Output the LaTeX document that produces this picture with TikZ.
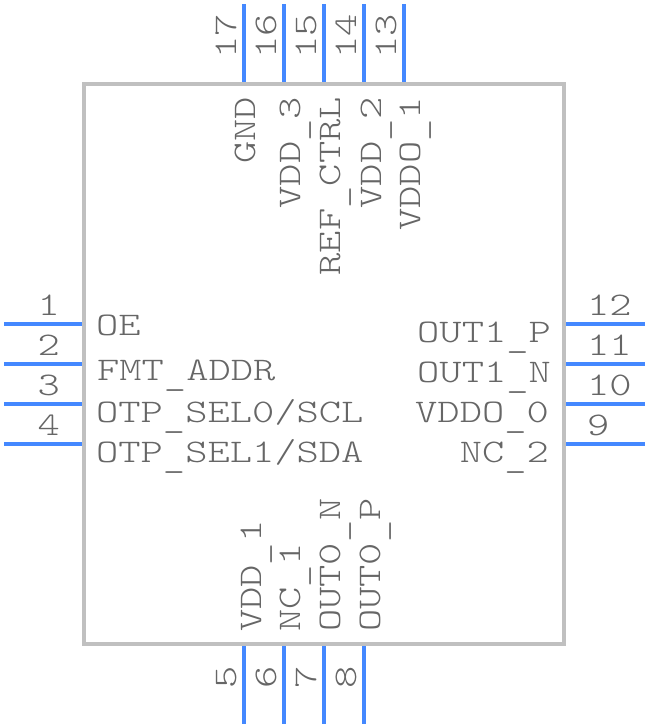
\documentclass[tikz,border=0pt]{standalone}
\usepackage{fontspec}
\setmonofont[FakeStretch=1.285]{Latin Modern Mono Light}
\usepackage{xcolor}
\definecolor{pinBlue}{RGB}{68, 136, 255}
\definecolor{bodyGray}{RGB}{192, 192, 192}
\definecolor{textGray}{RGB}{102, 102, 102}
\newcommand{\lowbar}{\raisebox{-5pt}{\_}}
\tikzset{
    base/.style={
        font=\fontsize{33}{33}\selectfont\ttfamily,
        text=textGray,
        inner sep=0pt
    },
    pin/.style={
        draw=pinBlue,
        line width=4pt
    },
    body/.style={
        draw=bodyGray,
        line width=4pt
    },
    leftlabel/.style={base, anchor=base west},
    rightlabel/.style={base, anchor=base east},
    toplabel/.style={base, rotate=90, anchor=base east},
    bottomlabel/.style={base, rotate=90, anchor=base west}
}
\begin{document}
\begin{tikzpicture}[x=1pt, y=-1pt]
  \useasboundingbox (0,0) rectangle (648,728);

  % Package outline
  \draw[body] (84,84) rectangle (564,644);

  % Pins
  \foreach \y in {324,364,404,444} {
    \draw[pin] (4,\y) -- (82,\y);
    \draw[pin] (566,\y) -- (645,\y);
  }
  \foreach \x in {244,284,324,364,404}
    \draw[pin] (\x,4) -- (\x,82);
  \foreach \x in {244,284,324,364}
    \draw[pin] (\x,646) -- (\x,724);

  % Pin numbers
  \foreach \n/\y in {1/315,2/355,3/395,4/435}
    \node[rightlabel] (num\n) at (60,\y) {\n};
  \foreach \n/\y in {12/315,11/355,10/395,9/435}
    \node[leftlabel] (num\n) at (587,\y) {\n};
  \foreach \n/\x in {17/236,16/276,15/316,14/356,13/396}
    \node[bottomlabel] (num\n) at (\x,59) {\n};
  \foreach \n/\x in {5/236,6/276,7/316,8/356}
    \node[toplabel] (num\n) at (\x,666) {\n};

  % Left labels
  \node[leftlabel] (oe) at (96,335) {OE};
  \node[leftlabel] (fmt) at (97,380) {FMT\lowbar ADDR};
  \node[leftlabel] (sel0) at (96,422) {OTP\lowbar SEL0/SCL};
  \node[leftlabel] (sel1) at (96,462) {OTP\lowbar SEL1/SDA};

  % Right labels
  \node[rightlabel] (out1p) at (551,342) {OUT1\lowbar P};
  \node[rightlabel] (out1n) at (551,382) {OUT1\lowbar N};
  \node[rightlabel] (vddo0) at (549,422) {VDDO\lowbar 0};
  \node[rightlabel] (nc2) at (549,462) {NC\lowbar 2};

  % Top labels
  \node[toplabel] (gnd) at (255,97) {GND};
  \node[toplabel] (vdd3) at (300,97) {VDD\lowbar 3};
  \node[toplabel] (refctrl) at (340,97) {REF\lowbar CTRL};
  \node[toplabel] (vdd2) at (381,97) {VDD\lowbar 2};
  \node[toplabel] (vddo1) at (420,97) {VDDO\lowbar 1};

  % Bottom labels
  \node[bottomlabel] (vdd1) at (261,632) {VDD\lowbar 1};
  \node[bottomlabel] (nc1) at (300,632) {NC\lowbar 1};
  \node[bottomlabel] (out0n) at (340,632) {OUT0\lowbar N};
  \node[bottomlabel] (out0p) at (380,632) {OUT0\lowbar P};
\end{tikzpicture}
\end{document}
